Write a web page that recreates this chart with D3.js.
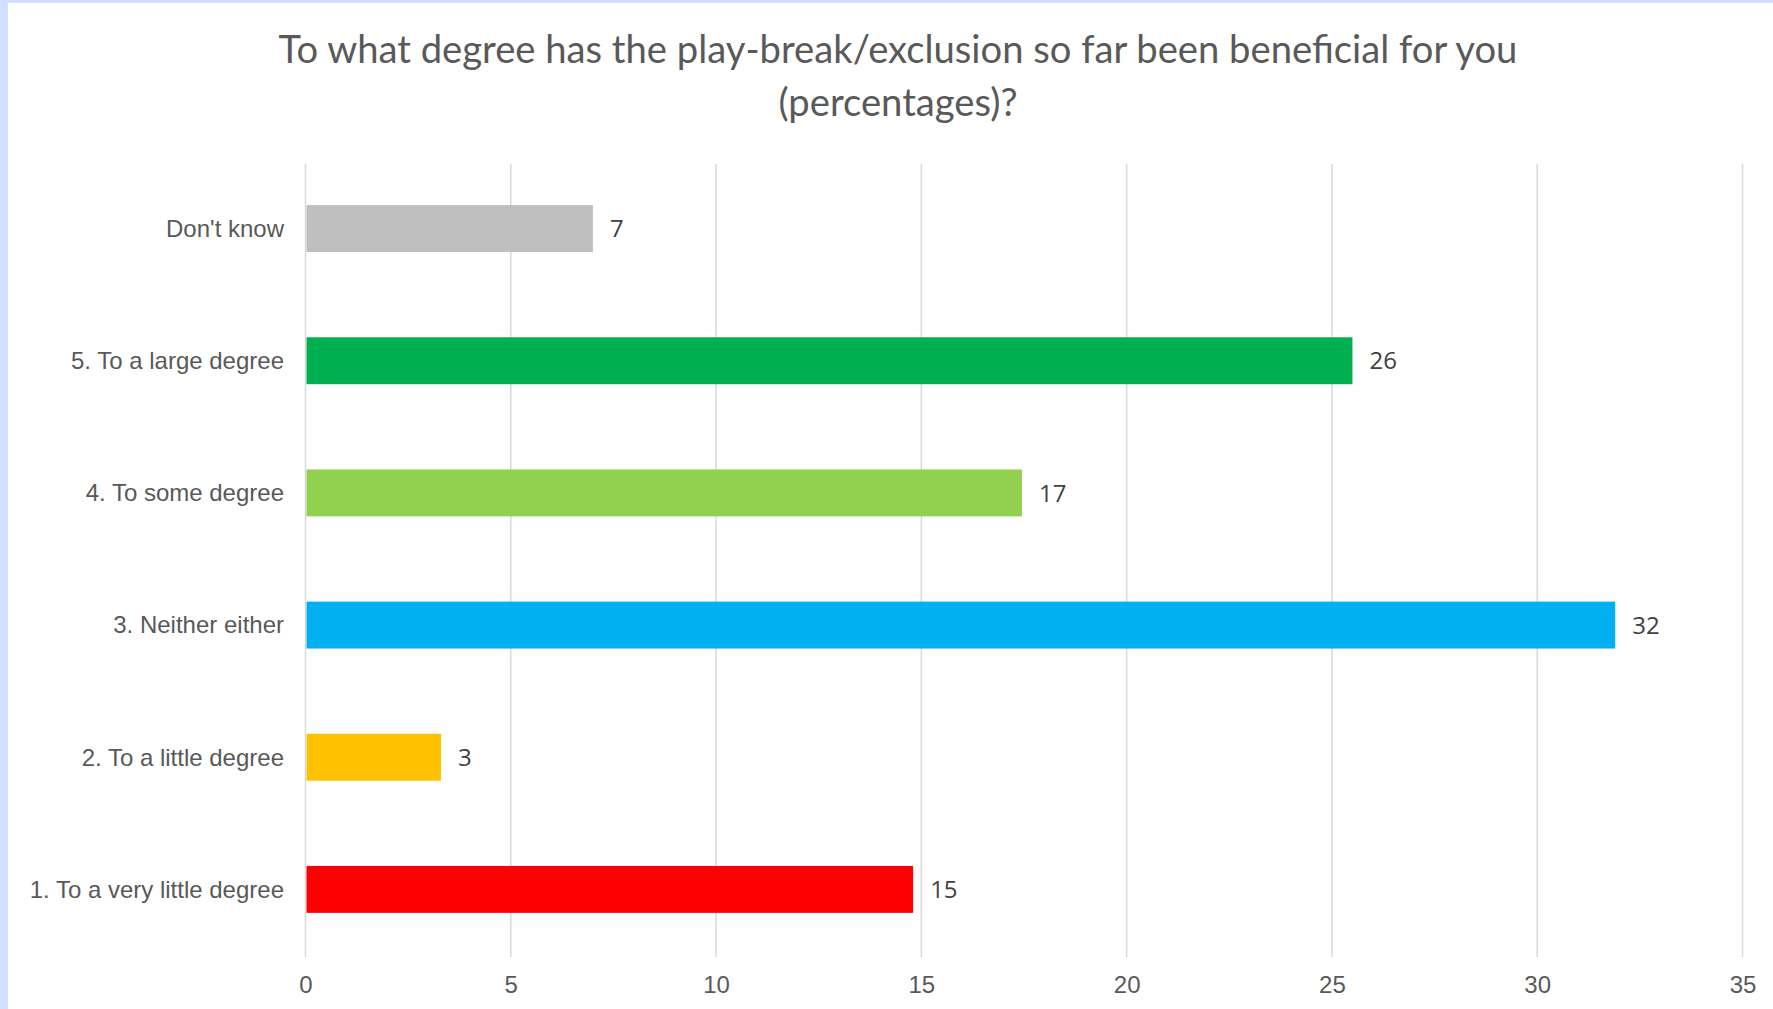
<!DOCTYPE html>
<html>
<head>
<meta charset="utf-8">
<script src="https://cdn.jsdelivr.net/npm/d3@7"></script>
<style>
  html, body { margin: 0; padding: 0; background: #d0dffe; }
  svg { display: block; }
</style>
</head>
<body>
<svg id="chart" width="1773" height="1009"></svg>
<script>
// Survey answers, listed top to bottom
const categories = [
  "Don't know",
  "5. To a large degree",
  "4. To some degree",
  "3. Neither either",
  "2. To a little degree",
  "1. To a very little degree"
];
// Share of respondents (%)
const values = [7.0, 25.5, 17.45, 31.9, 3.3, 14.8];
const colors = ["#bfbfbf", "#00b050", "#92d050", "#00b0f0", "#ffc000", "#ff0000"];
const tickValues = [0, 5, 10, 15, 20, 25, 30, 35];
const titleLines = [
  "To what degree has the play-break/exclusion so far been beneficial for you",
  "(percentages)?"
];

const W = 1773, H = 1009;
const svg = d3.select("#chart");

// white panel with a light blue frame on the top and left
svg.append("rect").attr("x", 8).attr("y", 3).attr("width", W - 8).attr("height", H - 3).attr("fill", "#ffffff");

const margin = { left: 305.5, right: W - 1742.5, top: 164, bottom: H - 957 };

const x = d3.scaleLinear().domain([0, 35]).range([margin.left, W - margin.right]);
const y = d3.scaleBand().domain(categories)
  .range([margin.top - 1.5, H - margin.bottom - 1.5])
  .paddingInner(0.645).paddingOuter(0.3225);

// title
const title = svg.append("text")
  .attr("text-anchor", "middle")
  .attr("fill", "#595959")
  .style("font-family", "Lato, 'Open Sans', sans-serif")
  .style("font-size", "38.2px");
titleLines.forEach((t, i) => {
  title.append("tspan").attr("x", 898).attr("y", 63 + i * 53).text(t);
});

// vertical gridlines
svg.append("g")
  .selectAll("line")
  .data(tickValues)
  .join("line")
  .attr("x1", d => x(d)).attr("x2", d => x(d))
  .attr("y1", margin.top).attr("y2", H - margin.bottom)
  .attr("stroke", "#d9d9d9")
  .attr("stroke-width", 1.5);

// x axis labels
const xAxis = d3.axisBottom(x).tickValues(tickValues).tickSize(0).tickPadding(0);
const gx = svg.append("g")
  .attr("transform", `translate(0,${H - margin.bottom})`)
  .call(xAxis);
gx.select(".domain").remove();
gx.selectAll("text")
  .attr("y", 28)
  .attr("dy", "0.35em")
  .attr("fill", "#595959")
  .style("font-family", "'Liberation Sans', Arial, sans-serif")
  .style("font-size", "24px");

// y axis labels
const yAxis = d3.axisLeft(y).tickSize(0).tickPadding(0);
const gy = svg.append("g")
  .attr("transform", `translate(${margin.left - 21.5},0)`)
  .call(yAxis);
gy.select(".domain").remove();
gy.selectAll("text")
  .attr("fill", "#595959")
  .attr("dy", "0.35em")
  .style("font-family", "'Liberation Sans', Arial, sans-serif")
  .style("font-size", "24px");

// bars
svg.append("g")
  .selectAll("rect")
  .data(values)
  .join("rect")
  .attr("x", x(0) + 1)
  .attr("y", (d, i) => y(categories[i]))
  .attr("width", d => x(d) - x(0) - 1)
  .attr("height", y.bandwidth())
  .attr("fill", (d, i) => colors[i]);

// value labels
svg.append("g")
  .selectAll("text")
  .data(values)
  .join("text")
  .attr("x", d => x(d) + 17)
  .attr("y", (d, i) => y(categories[i]) + y.bandwidth() / 2)
  .attr("dy", "0.36em")
  .attr("fill", "#404040")
  .style("font-family", "'Open Sans', sans-serif")
  .style("font-size", "24px")
  .text(d => d3.format(".0f")(d));
</script>
</body>
</html>
